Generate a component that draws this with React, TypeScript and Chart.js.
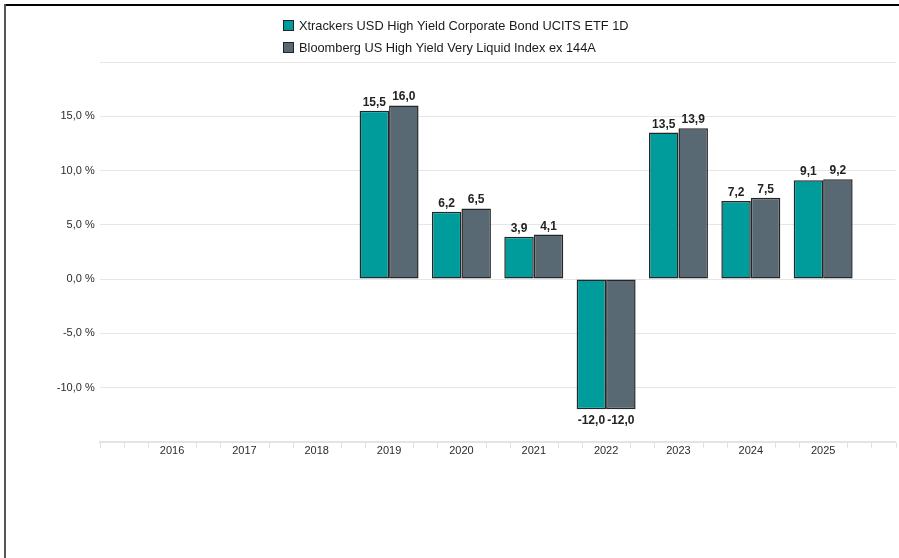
import React, { useEffect, useRef } from "react";
import { Chart, registerables } from "chart.js";

Chart.register(...registerables);

const years = ["2016", "2017", "2018", "2019", "2020", "2021", "2022", "2023", "2024", "2025"];
const fundLabel = "Xtrackers USD High Yield Corporate Bond UCITS ETF 1D";
const indexLabel = "Bloomberg US High Yield Very Liquid Index ex 144A";
const fundValues: (number | null)[] = [null, null, null, 15.5, 6.2, 3.9, -12.0, 13.5, 7.2, 9.1];
const indexValues: (number | null)[] = [null, null, null, 16.0, 6.5, 4.1, -12.0, 13.9, 7.5, 9.2];
const yTicks = [-10, -5, 0, 5, 10, 15];

const FONT = "'Liberation Sans', Arial, Helvetica, sans-serif";
const TEAL = "#009c9c";
const SLATE = "#596973";

const fmt = (v: number) => v.toFixed(1).replace(".", ",");

const legendPlugin = {
  id: "customLegend",
  afterDraw(chart: any) {
    const { ctx } = chart;
    ctx.save();
    ctx.font = `12.8px ${FONT}`;
    ctx.textBaseline = "alphabetic";
    ctx.textAlign = "left";
    chart.data.datasets.forEach((ds: any, i: number) => {
      const x = 283;
      const base = 29.5 + i * 22;
      ctx.fillStyle = ds.backgroundColor;
      ctx.fillRect(x + 0.5, base - 9, 10, 10);
      ctx.strokeStyle = "#222";
      ctx.lineWidth = 1;
      ctx.strokeRect(x + 0.5, base - 9, 10, 10);
      ctx.fillStyle = "#1a1a1a";
      ctx.fillText(ds.label, x + 16, base);
    });
    ctx.restore();
  },
};

const valueLabelPlugin = {
  id: "valueLabels",
  afterDatasetsDraw(chart: any) {
    const { ctx } = chart;
    ctx.save();
    ctx.font = `bold 12px ${FONT}`;
    ctx.fillStyle = "#222";
    ctx.textAlign = "center";
    ctx.textBaseline = "alphabetic";
    chart.data.datasets.forEach((ds: any, di: number) => {
      const meta = chart.getDatasetMeta(di);
      meta.data.forEach((el: any, idx: number) => {
        const v = ds.data[idx];
        if (v === null || v === undefined) return;
        const y = v >= 0 ? el.y - 5 : el.y + 15;
        ctx.fillText(fmt(v), el.x, y);
      });
    });
    ctx.restore();
  },
};

const axisTickPlugin = {
  id: "axisTicks",
  afterDraw(chart: any) {
    const { ctx } = chart;
    const xs = chart.scales.x;
    const n = chart.data.labels.length;
    ctx.save();
    ctx.strokeStyle = "#e0e0e0";
    ctx.lineWidth = 1;
    for (let k = 0; k <= (n - 1) * 3; k++) {
      const idx = k / 3;
      const isLabelCenter = k % 3 === 0 && chart.data.labels[idx] !== "";
      if (isLabelCenter) continue;
      const px = Math.round(xs.getPixelForValue(idx)) + 0.5;
      ctx.beginPath();
      ctx.moveTo(px, xs.top + 1);
      ctx.lineTo(px, xs.top + 6);
      ctx.stroke();
    }
    ctx.restore();
  },
};

export default function App() {
  const ref = useRef<HTMLCanvasElement | null>(null);

  useEffect(() => {
    if (!ref.current) return;
    const labels = ["", ...years, ""];
    const pad = (arr: (number | null)[]) => [null, ...arr, null];
    const common = {
      borderColor: "#262626",
      borderWidth: 1.5,
      borderSkipped: false,
      inflateAmount: 0,
      categoryPercentage: 0.815,
      barPercentage: 1,
    };
    const chart = new Chart(ref.current, {
      type: "bar",
      data: {
        labels,
        datasets: [
          { label: fundLabel, data: pad(fundValues), backgroundColor: TEAL, ...common },
          { label: indexLabel, data: pad(indexValues), backgroundColor: SLATE, ...common },
        ],
      },
      options: {
        responsive: false,
        animation: false,
        devicePixelRatio: 1,
        layout: { padding: { left: 0, right: 3.5, top: 62, bottom: 86.25 } },
        plugins: {
          legend: { display: false },
          tooltip: { enabled: false },
        },
        scales: {
          x: {
            offset: false,
            grid: { display: false, drawTicks: false },
            border: { display: true, color: "#e4e4e4", width: 2 },
            ticks: {
              autoSkip: false,
              maxRotation: 0,
              padding: 3,
              color: "#2b2b2b",
              font: { family: FONT, size: 11 },
            },
            afterFit: (s: any) => {
              s.height = 30;
            },
          },
          y: {
            min: -15,
            max: 20,
            grid: { color: "#e6e6e6", lineWidth: 1, drawTicks: false },
            border: { display: false },
            afterBuildTicks: (s: any) => {
              s.ticks = [-15, ...yTicks, 20].map((v) => ({ value: v }));
            },
            ticks: {
              padding: 5,
              color: "#2b2b2b",
              font: { family: FONT, size: 11 },
              callback: (v: any) => (yTicks.includes(Number(v)) ? `${fmt(Number(v))} %` : ""),
            },
            afterFit: (s: any) => {
              s.width = 99.7;
            },
          },
        },
      },
      plugins: [legendPlugin, valueLabelPlugin, axisTickPlugin],
    } as any);
    return () => chart.destroy();
  }, []);

  return (
    <div style={{ position: "fixed", left: 0, top: 0, width: 899, height: 558, background: "#fff", overflow: "hidden" }}>
      <canvas ref={ref} width={899} height={558} style={{ position: "absolute", left: 0, top: 0, width: 899, height: 558 }} />
      <div style={{ position: "absolute", left: 4, top: 4, width: 895, height: 1.5, background: "#000" }} />
      <div style={{ position: "absolute", left: 4, top: 4, width: 2, height: 554, background: "#555" }} />
    </div>
  );
}
